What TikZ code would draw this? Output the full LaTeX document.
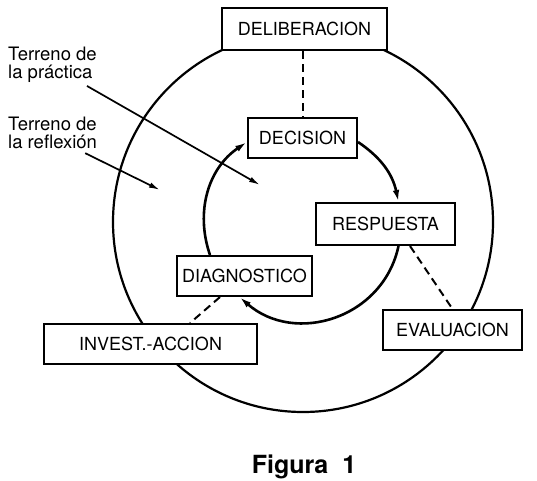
\documentclass[tikz,border=0pt]{standalone}
\usepackage{fontspec}
\setmainfont{TeX Gyre Heros}
\usepackage{tikz}
\usetikzlibrary{arrows.meta,calc}

\begin{document}
\begin{tikzpicture}[x=1pt, y=1pt,
    etapa/.style={draw, line width=2pt, fill=white, rectangle, minimum height=40pt, inner sep=0pt, font=\fontsize{18}{20}\selectfont},
    ciclo/.style={line width=2.6pt, -{Latex[length=12pt,width=6.5pt]}},
    enlace/.style={line width=2pt, dash pattern=on 8pt off 5pt},
    nota/.style={align=left, anchor=north west, inner sep=0pt, font=\fontsize{18.5}{18}\selectfont},
    flecha/.style={line width=1.7pt, -{Latex[length=11pt,width=5.5pt]}}]

    \useasboundingbox (0,0) rectangle (537,-480);

    % terreno de la reflexion
    \draw[line width=2.2pt] (303,-222) circle[radius=190];

    \node[etapa, minimum width=165pt, minimum height=42pt] (delib) at (304.5,-29) {DELIBERACION};
    \node[etapa, minimum width=109pt] (decis) at (302.5,-138) {DECISION};
    \node[etapa, minimum width=139pt, minimum height=42pt] (resp) at (385.5,-224) {RESPUESTA};
    \node[etapa, minimum width=135pt] (diag) at (244.5,-276) {DIAGNOSTICO};
    \node[etapa, minimum width=213pt] (invest) at (150.5,-344) {INVEST.-ACCION};
    \node[etapa, minimum width=139pt] (eval) at (452.5,-330) {EVALUACION};

    % ciclo de la practica
    \draw[ciclo] ([yshift=-4pt]decis.east) to[out=-34, in=102] ([xshift=13pt]resp.north);
    \draw[ciclo] ([xshift=13pt]resp.south) to[out=-102, in=-41, looseness=1.13] ([xshift=-5pt]diag.south);
    \draw[ciclo] ([xshift=-34.5pt]diag.north) to[out=109, in=-146] ([yshift=-4pt]decis.west);

    \draw[enlace] (delib.south -| decis.north) -- (decis.north);
    \draw[enlace] ([xshift=24.5pt]resp.south) -- (eval.north);
    \draw[enlace] ([xshift=-24.5pt]diag.south) -- ([xshift=39.5pt]invest.north);

    % notas
    \node[nota] (prac) at (8,-47) {Terreno de\\la práctica};
    \node[nota] (refl) at (8,-117) {Terreno de\\la reflexión};
    \coordinate (pracfin) at (260,-185);
    \coordinate (reflfin) at (160,-190);
    \draw[flecha] ([xshift=-10pt,yshift=-3pt]prac.south east) -- (pracfin);
    \draw[flecha] ([xshift=-12pt,yshift=-4pt]refl.south east) -- (reflfin);

    \node[font=\bfseries\fontsize{25}{28}\selectfont, anchor=base] (fig) at (304,-473) {Figura\ \ 1};
\end{tikzpicture}
\end{document}
